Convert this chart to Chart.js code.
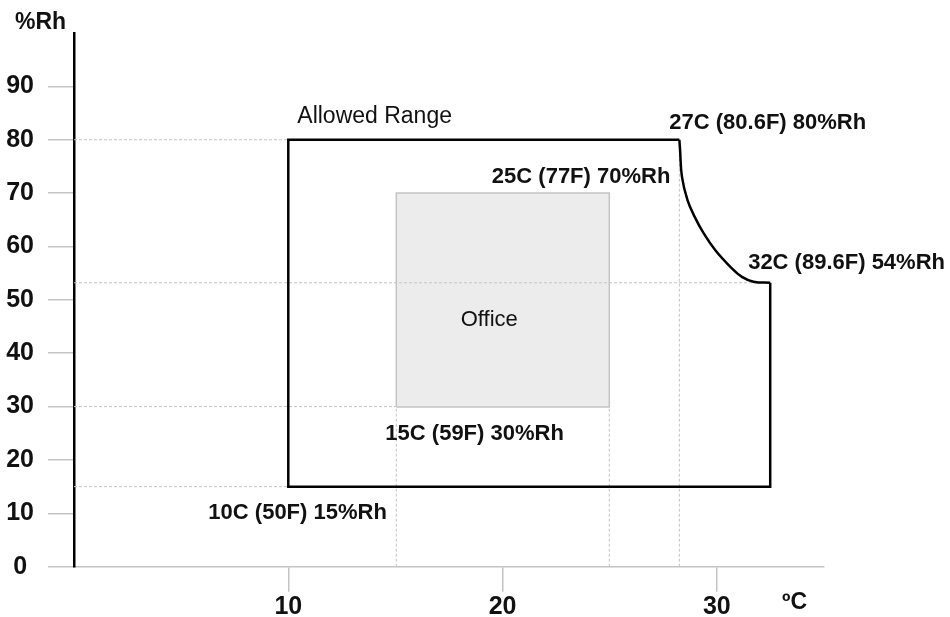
<!DOCTYPE html>
<html>
<head>
<meta charset="utf-8">
<script src="https://cdn.jsdelivr.net/npm/chart.js@4/dist/chart.umd.min.js"></script>
<style>
  html, body { margin: 0; padding: 0; background: #ffffff; }
  #wrap { width: 950px; height: 617px; position: relative; }
</style>
</head>
<body>
<div id="wrap"><canvas id="c" width="950" height="617"></canvas></div>
<script>
// ---- data ----
const yTickValues = [0, 10, 20, 30, 40, 50, 60, 70, 80, 90];
const xTickValues = [10, 20, 30];

// Allowed range: straight part of the outline (°C, %Rh)
const allowedX = [28.25, 10, 10, 32.49, 32.49];
const allowedY = [80, 80, 15, 15, 53.2];

// Allowed range: curved part between 27C/80%Rh and 32C/54%Rh
const curveX = [28.25, 28.28, 28.37, 28.63, 28.96, 29.38, 29.93, 30.63, 31.17, 31.71, 32.49];
const curveY = [80, 78.3, 73.1, 68.7, 65.6, 62.5, 59.3, 56.2, 54.3, 53.4, 53.2];

// Office zone
const officeX = [15.04, 15.04, 24.98, 24.98, 15.04];
const officeY = [29.9, 70, 70, 29.9, 29.9];

// Guide lines [x1, y1, x2, y2]
const guideLines = [
  [0, 80, 10, 80],
  [0, 15, 10, 15],
  [0, 30, 15.04, 30],
  [0, 53.2, 32.49, 53.2],
  [15.04, 0, 15.04, 29.9],
  [24.98, 0, 24.98, 29.9],
  [28.25, 0, 28.25, 80]
];

// Text labels
const labelTexts = ['Allowed Range', '27C (80.6F) 80%Rh', '25C (77F) 70%Rh', '32C (89.6F) 54%Rh', 'Office', '15C (59F) 30%Rh', '10C (50F) 15%Rh'];
const labelAnchorX = [10.42, 27.78, 19.5, 31.46, 19.38, 14.53, 6.27];
const labelAnchorY = [84.4, 83.1, 73.1, 56.9, 46.2, 24.85, 10.05];
const labelBold = [false, true, true, true, false, true, true];
const labelAlign = ['left', 'left', 'left', 'left', 'center', 'left', 'left'];

const zip = (xs, ys) => xs.map((x, i) => ({x: x, y: ys[i]}));

Chart.defaults.font.family = "'Liberation Sans', Arial, sans-serif";
Chart.defaults.color = '#111111';

const datasets = [];
datasets.push({
  label: 'allowed', data: zip(allowedX, allowedY), showLine: true, tension: 0,
  borderColor: '#000000', borderWidth: 2.5, pointRadius: 0, fill: false, order: 1
});
datasets.push({
  label: 'allowedCurve', data: zip(curveX, curveY), showLine: true, tension: 0.4,
  borderColor: '#000000', borderWidth: 2.5, pointRadius: 0, fill: false, order: 1,
  borderJoinStyle: 'round'
});
guideLines.forEach((g, i) => {
  datasets.push({
    label: 'guide' + i, data: [{x: g[0], y: g[1]}, {x: g[2], y: g[3]}], showLine: true,
    borderColor: '#c4c4c4', borderWidth: 1, borderDash: [3, 2], pointRadius: 0, fill: false, order: 2
  });
});
datasets.push({
  label: 'office', data: zip(officeX, officeY), showLine: true, tension: 0,
  borderColor: '#c4c4c4', borderWidth: 1.5, backgroundColor: '#ececec', pointRadius: 0,
  fill: 'shape', order: 3
});

const textPlugin = {
  id: 'texts',
  afterDraw(chart) {
    const ctx = chart.ctx;
    const xs = chart.scales.x, ys = chart.scales.y;
    ctx.save();
    ctx.fillStyle = '#111111';
    ctx.textBaseline = 'middle';
    labelTexts.forEach((t, i) => {
      ctx.font = (labelBold[i] ? 'bold 22px' : (i === 0 ? '23px' : '22px')) + " 'Liberation Sans', Arial, sans-serif";
      ctx.textAlign = labelAlign[i];
      ctx.fillText(t, xs.getPixelForValue(labelAnchorX[i]), ys.getPixelForValue(labelAnchorY[i]));
    });
    // axis titles
    ctx.font = "bold 23px 'Liberation Sans', Arial, sans-serif";
    ctx.textAlign = 'left';
    ctx.fillText('%Rh', 15, 23);
    ctx.font = "bold 23px 'Liberation Sans', Arial, sans-serif";
    ctx.fillText('\u00BAC', 782, 603);
    ctx.restore();
  }
};

new Chart(document.getElementById('c'), {
  type: 'scatter',
  data: { datasets: datasets },
  options: {
    responsive: false,
    animation: false,
    layout: { padding: { top: 33, right: 126, left: 0, bottom: 0 } },
    plugins: { legend: { display: false }, tooltip: { enabled: false } },
    scales: {
      x: {
        type: 'linear', min: 0, max: 35,
        afterBuildTicks: s => { s.ticks = xTickValues.map(v => ({value: v})); },
        afterFit: s => { s.height = 50.3; },
        grid: { drawOnChartArea: false, drawTicks: true, tickLength: 25, color: '#c4c4c4', lineWidth: 1.5 },
        border: { display: true, color: '#c4c4c4', width: 1.5 },
        ticks: { font: { size: 25, weight: 'bold' }, color: '#111111', padding: 0, maxRotation: 0, autoSkip: false }
      },
      y: {
        type: 'linear', min: 0, max: 100,
        afterBuildTicks: s => { s.ticks = yTickValues.map(v => ({value: v})); },
        afterFit: s => { s.width = 74; },
        grid: { drawOnChartArea: false, drawTicks: true, tickLength: 26, color: '#c4c4c4', lineWidth: 1.5 },
        border: { display: true, color: '#000000', width: 2.5 },
        ticks: { font: { size: 25, weight: 'bold' }, color: '#111111', padding: 14, crossAlign: 'center', autoSkip: false }
      }
    }
  },
  plugins: [textPlugin]
});
</script>
</body>
</html>
